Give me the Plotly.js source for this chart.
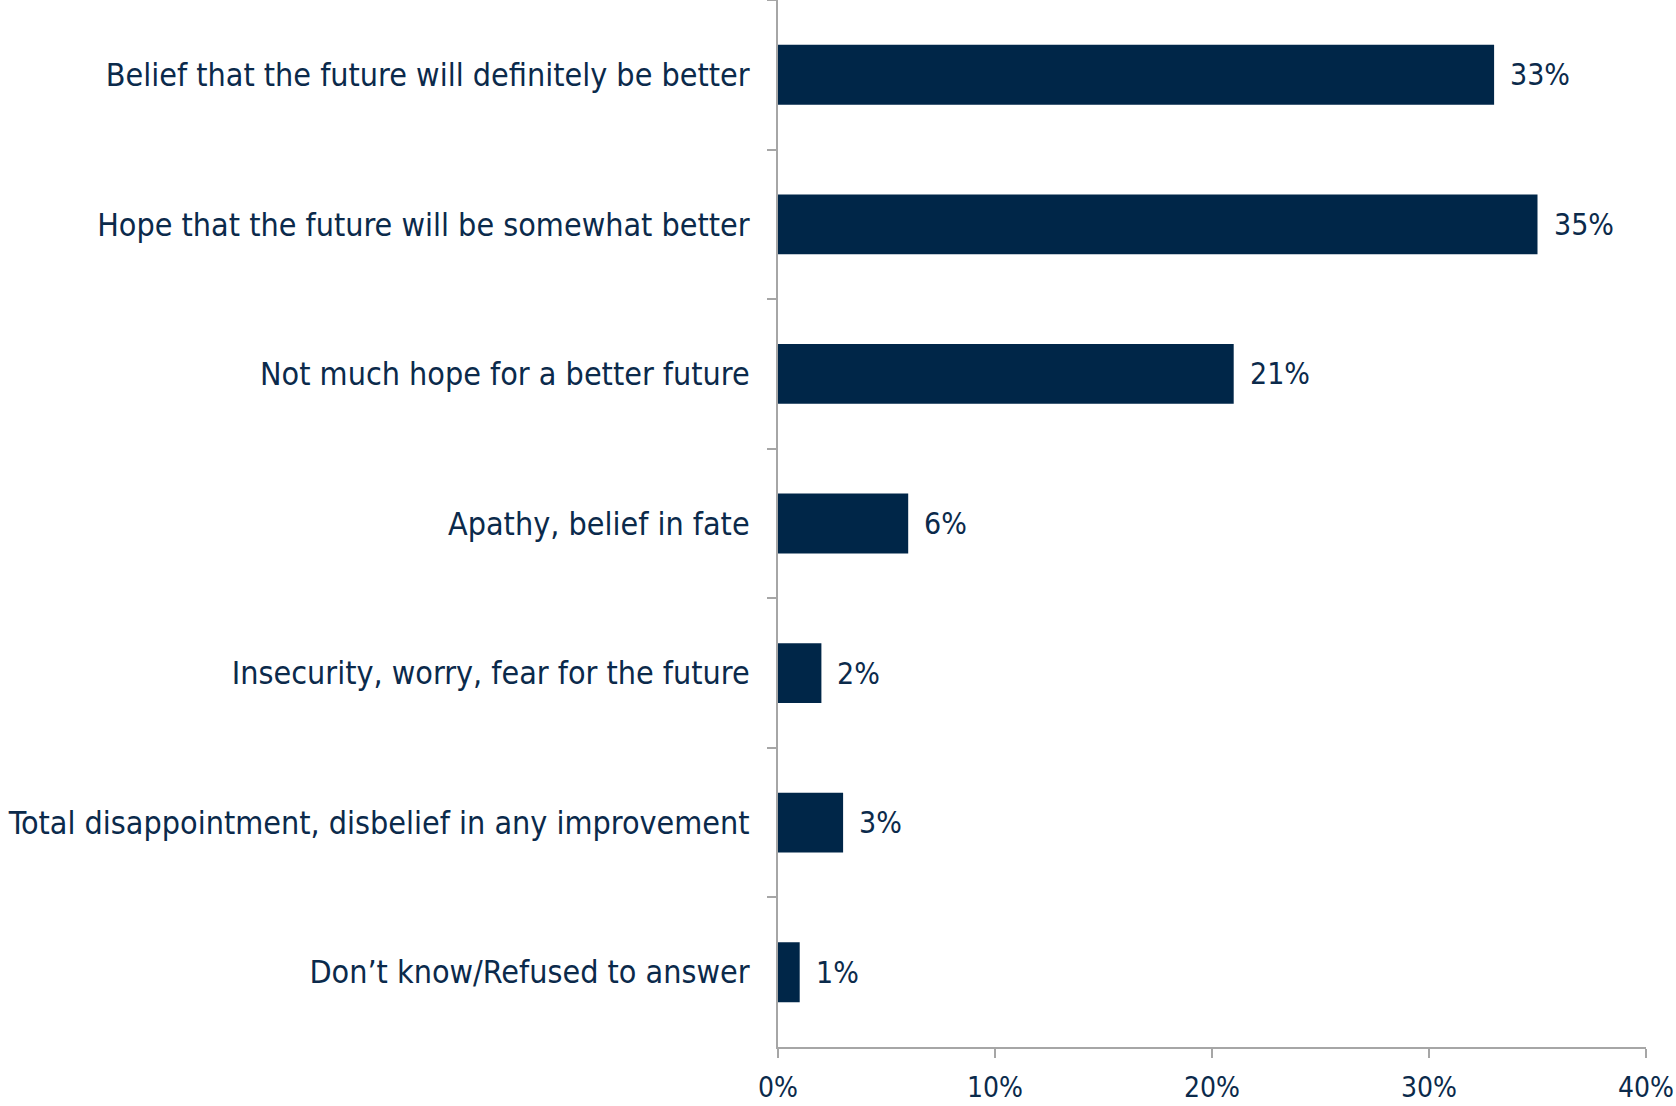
<!DOCTYPE html>
<html>
<head>
<meta charset="utf-8">
<script src="https://cdn.plot.ly/plotly-3.0.1.min.js"></script>
<style>html,body{margin:0;padding:0;background:#fff;}#chart{width:1676px;height:1106px;}</style>
</head>
<body>
<div id="chart"></div>
<script>
const categories = [
  "Belief that the future will definitely be better",
  "Hope that the future will be somewhat better",
  "Not much hope for a better future",
  "Apathy, belief in fate",
  "Insecurity, worry, fear for the future",
  "Total disappointment, disbelief in any improvement",
  "Don\u2019t know/Refused to answer"
];
const values = [33, 35, 21, 6, 2, 3, 1];
const labels = values.map(v => v + "%");

const navy = "#002648";
const textCol = "#0b2a4b";
const fontFam = "'DejaVu Sans Condensed', 'DejaVu Sans', sans-serif";

const trace = {
  type: "bar",
  orientation: "h",
  x: values,
  y: categories,
  marker: {color: navy},
  width: 0.4,
  hoverinfo: "none"
};

const annotations = values.map((v, i) => ({
  x: v, y: categories[i], xref: "x", yref: "y",
  text: labels[i], showarrow: false, xanchor: "left", yanchor: "middle",
  xshift: 14, font: {family: fontFam, size: 30, color: textCol}
}));

const layout = {
  width: 1676, height: 1106,
  margin: {l: 778, r: 30, t: 0, b: 59},
  paper_bgcolor: "#fff", plot_bgcolor: "#fff",
  showlegend: false,
  bargap: 0.6,
  xaxis: {
    range: [0, 40], dtick: 10, ticksuffix: "%",
    showgrid: false, zeroline: false,
    showline: true, linecolor: "#a6a6a6", linewidth: 2,
    ticks: "outside", ticklen: 9, tickcolor: "#a6a6a6", tickwidth: 2,
    tickfont: {family: fontFam, size: 28, color: textCol},
    ticklabelstandoff: 5
  },
  yaxis: {
    autorange: "reversed",
    showgrid: false, zeroline: false,
    showline: true, linecolor: "#a6a6a6", linewidth: 2,
    ticks: "outside", ticklen: 9, tickcolor: "#a6a6a6", tickwidth: 2,
    tickson: "boundaries",
    tickfont: {family: fontFam, size: 32, color: textCol},
    ticklabelstandoff: 20
  },
  annotations: annotations
};

Plotly.newPlot("chart", [trace], layout, {displayModeBar: false, staticPlot: true});
</script>
</body>
</html>
